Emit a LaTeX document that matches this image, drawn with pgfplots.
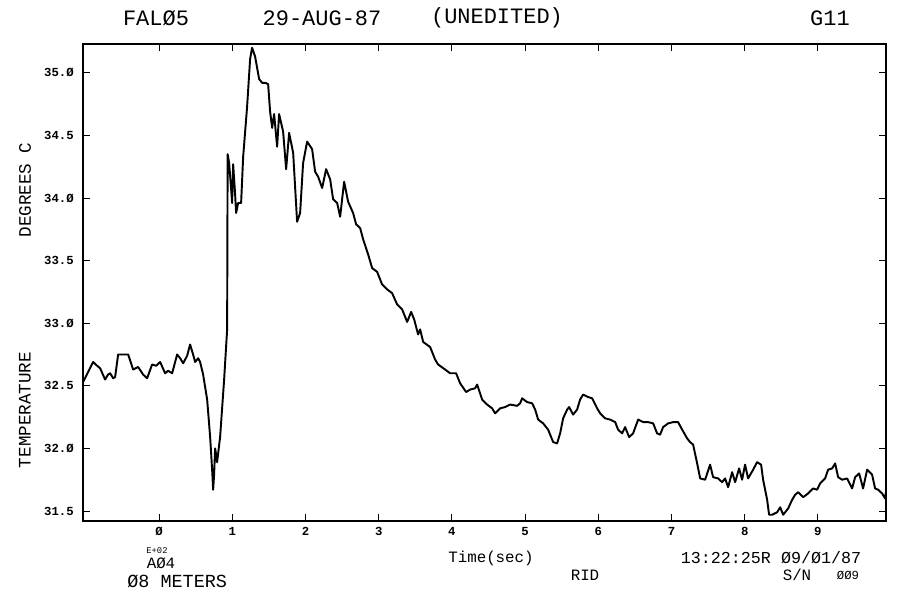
\documentclass[border=0pt]{standalone}
\usepackage{fontspec}
\usepackage{pgfplots}
\pgfplotsset{compat=1.18}
\setmainfont{Liberation Mono}

% temperature trace, time in units of 100 s
\pgfplotstableread{
t T
-1.038 32.53
-0.970 32.61
-0.902 32.69
-0.847 32.66
-0.806 32.64
-0.738 32.55
-0.697 32.59
-0.669 32.60
-0.628 32.56
-0.601 32.57
-0.560 32.75
-0.492 32.75
-0.423 32.75
-0.355 32.63
-0.287 32.65
-0.219 32.59
-0.164 32.56
-0.096 32.67
-0.041 32.66
0.014 32.69
0.082 32.60
0.123 32.62
0.178 32.60
0.246 32.75
0.287 32.72
0.328 32.68
0.383 32.74
0.423 32.83
0.464 32.75
0.492 32.69
0.533 32.72
0.560 32.69
0.601 32.59
0.656 32.39
0.697 32.09
0.724 31.83
0.738 31.67
0.751 31.79
0.765 32.00
0.779 31.95
0.792 31.89
0.833 32.09
0.888 32.55
0.929 32.95
0.936 34.35
0.956 34.28
0.984 34.07
0.997 33.96
1.011 34.27
1.038 34.03
1.052 33.88
1.079 33.96
1.120 33.96
1.148 34.33
1.202 34.73
1.243 35.11
1.270 35.20
1.311 35.13
1.366 34.95
1.407 34.92
1.448 34.92
1.489 34.91
1.516 34.69
1.544 34.56
1.571 34.67
1.612 34.41
1.639 34.67
1.694 34.53
1.735 34.23
1.776 34.52
1.831 34.36
1.885 33.81
1.926 33.88
1.967 34.28
2.022 34.45
2.090 34.39
2.131 34.21
2.172 34.17
2.227 34.08
2.281 34.23
2.336 34.15
2.377 33.99
2.432 33.96
2.473 33.85
2.527 34.13
2.582 33.97
2.650 33.88
2.691 33.79
2.746 33.76
2.787 33.67
2.855 33.55
2.910 33.44
2.978 33.41
3.046 33.31
3.115 33.27
3.183 33.24
3.251 33.15
3.320 33.11
3.388 33.01
3.443 33.09
3.484 33.03
3.538 32.91
3.566 32.95
3.607 32.85
3.702 32.81
3.770 32.71
3.811 32.67
3.907 32.63
3.975 32.60
4.057 32.60
4.112 32.52
4.194 32.45
4.249 32.47
4.317 32.48
4.344 32.51
4.413 32.39
4.481 32.35
4.549 32.32
4.590 32.28
4.658 32.32
4.727 32.33
4.795 32.35
4.891 32.34
4.932 32.36
4.959 32.40
5.027 32.37
5.096 32.36
5.137 32.31
5.178 32.23
5.246 32.20
5.314 32.15
5.383 32.05
5.437 32.04
5.478 32.12
5.519 32.24
5.574 32.31
5.601 32.33
5.656 32.27
5.710 32.31
5.751 32.39
5.792 32.43
5.861 32.41
5.915 32.40
5.984 32.32
6.025 32.28
6.093 32.24
6.161 32.23
6.230 32.21
6.270 32.15
6.325 32.12
6.366 32.17
6.421 32.09
6.475 32.12
6.544 32.23
6.612 32.21
6.680 32.21
6.749 32.20
6.803 32.12
6.844 32.11
6.885 32.17
6.954 32.20
7.022 32.21
7.090 32.21
7.145 32.15
7.213 32.08
7.254 32.05
7.295 32.03
7.350 31.88
7.391 31.76
7.459 31.75
7.527 31.87
7.568 31.77
7.637 31.76
7.691 31.73
7.732 31.76
7.773 31.69
7.828 31.81
7.869 31.73
7.923 31.84
7.964 31.75
8.005 31.87
8.046 31.76
8.115 31.83
8.169 31.89
8.224 31.87
8.251 31.75
8.306 31.59
8.333 31.47
8.374 31.47
8.443 31.49
8.484 31.53
8.525 31.47
8.593 31.52
8.648 31.59
8.689 31.63
8.730 31.65
8.798 31.61
8.866 31.64
8.934 31.68
8.989 31.67
9.030 31.72
9.098 31.76
9.139 31.83
9.194 31.84
9.235 31.88
9.276 31.77
9.331 31.75
9.399 31.76
9.467 31.68
9.508 31.77
9.563 31.80
9.617 31.68
9.672 31.83
9.740 31.79
9.781 31.68
9.822 31.67
9.877 31.64
9.918 31.60
9.932 31.67
}\tracedata

\begin{document}
\begin{tikzpicture}
\path[use as bounding box] (0,0) rectangle (18.06cm,11.82cm);
\begin{axis}[
    scale only axis,
    width=16.06cm,
    height=9.54cm,
    at={(1.66cm,1.40cm)},
    anchor=south west,
    xmin=-1.04, xmax=9.93,
    ymin=31.42, ymax=35.23,
    axis line style={line width=0.6pt},
    tick align=inside,
    major tick length=0.14cm,
    tick style={line width=0.5pt, black},
    xtick={0,1,2,3,4,5,6,7,8,9},
    xticklabels={Ø,1,2,3,4,5,6,7,8,9},
    ytick={31.5,32,32.5,33,33.5,34,34.5,35},
    yticklabels={31.5,32.Ø,32.5,33.Ø,33.5,34.Ø,34.5,35.Ø},
    tick label style={font=\fontsize{7}{8}\selectfont\bfseries, inner sep=0pt},
    yticklabel style={xshift=-0.18cm},
    xticklabel style={yshift=-0.12cm},
]
\addplot[black, line width=1.1pt, line join=round] table[x=t, y=T] {\tracedata};
\end{axis}
% header
\node[font=\fontsize{12.5}{14}\selectfont] at (3.12cm,11.46cm) {FALØ5};
\node[font=\fontsize{12.5}{14}\selectfont] at (6.44cm,11.46cm) {29-AUG-87};
\node[font=\fontsize{12.5}{14}\selectfont] at (9.94cm,11.46cm) {(UNEDITED)};
\node[font=\fontsize{12.5}{14}\selectfont] at (16.60cm,11.46cm) {G11};
% y label, two pieces
\node[rotate=90, font=\fontsize{10}{12}\selectfont] at (0.50cm,8.02cm) {DEGREES C};
\node[rotate=90, font=\fontsize{10}{12}\selectfont] at (0.50cm,3.62cm) {TEMPERATURE};
% footer
\node[font=\fontsize{5}{6}\selectfont] at (3.14cm,0.80cm) {E+02};
\node[font=\fontsize{9}{10}\selectfont] at (3.22cm,0.56cm) {AØ4};
\node[anchor=west, font=\fontsize{10.5}{12}\selectfont, inner sep=0pt] at (2.54cm,0.20cm) {Ø8 METERS};
\node[font=\fontsize{9}{10}\selectfont] at (9.82cm,0.66cm) {Time(sec)};
\node[font=\fontsize{9}{10}\selectfont] at (11.70cm,0.32cm) {RID};
\node[font=\fontsize{9.5}{10}\selectfont] at (15.42cm,0.66cm) {13:22:25R Ø9/Ø1/87};
\node[font=\fontsize{9}{10}\selectfont] at (15.94cm,0.32cm) {S/N};
\node[font=\fontsize{7}{8}\selectfont] at (16.96cm,0.32cm) {ØØ9};
\end{tikzpicture}
\end{document}
